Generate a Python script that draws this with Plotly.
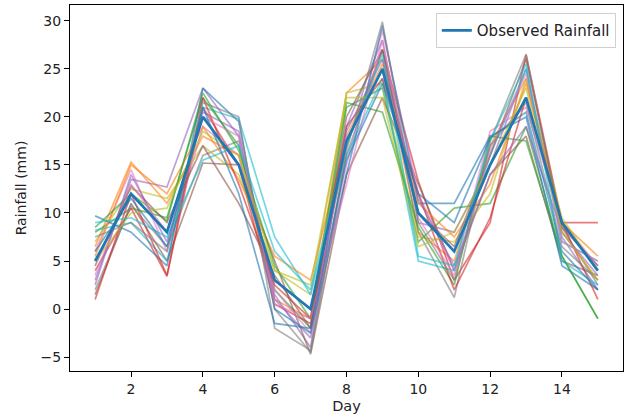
import plotly.graph_objects as go

days = list(range(1, 16))
observed = [5, 12, 8, 20, 15, 3, 0, 17.5, 25, 10, 6, 15, 22, 9, 4]

sim01 = [6.5, 15.3, 11, 18, 16, 1, -1, 22.5, 26, 8, 5, 17, 24, 8, 3]
sim02 = [8, 10.5, 9.5, 22, 17, 2, -2, 21, 23, 7, 10.5, 11, 19, 5.5, -1]
sim03 = [4, 10.5, 3.4, 21, 15, 0.5, -1.5, 17, 27, 13.3, 3, 9, 26.5, 9, 9]
sim04 = [3, 13.5, 12.7, 23, 18, 1.5, -4, 19, 28, 9, 8, 15, 25, 7.5, 2]
sim05 = [1.5, 11, 5, 15.2, 15, 5, -4.7, 14, 22, 13, 4, 14, 18, 5, 3.5]
sim06 = [6, 14.5, 6, 19, 16, 2, -2.5, 15, 29, 12, 4, 18.5, 21, 9, 4.5]
sim07 = [2, 10.8, 6.5, 16, 17.5, 0, -4.5, 16, 27, 8, 1.2, 17.5, 26.5, 8.5, 2.5]
sim08 = [7, 12.5, 11.5, 17, 14, 4, 1.5, 22.5, 23.5, 7.5, 7, 12, 24, 9.5, 4]
sim09 = [8.2, 9, 5, 21, 19.8, 7.5, 1.5, 16, 24, 5, 4, 16, 25, 7, 5]
sim10 = [9.7, 8, 4.5, 23, 19.5, 0, -2.5, 14, 29.5, 11, 11, 18, 20, 4.5, 2]
sim11 = [5.5, 15, 12, 19, 13.5, 5.5, 3, 18, 25.5, 11, 7.5, 13, 23.5, 9, 5.5]
sim12 = [8.5, 12, 9.2, 22.5, 16.5, 4.5, -1, 21.5, 20.5, 8.5, 2.5, 18, 17.5, 5.5, -1]
sim13 = [1, 12, 3.5, 22, 13, 2.5, -1, 19, 24, 12, 2, 9.5, 22, 9, 1]
sim14 = [2.5, 14, 7, 20.5, 18.5, 1, -3, 18.5, 26, 11.5, 4.5, 14, 19, 8, 3.5]
sim15 = [4.5, 12.8, 9, 17, 11, 3.5, -2, 20, 27, 10, 6.5, 16, 26, 8.5, 4.5]
sim16 = [3.5, 13, 8, 20, 18, 0.5, -1, 13, 28, 9.5, 3.5, 16.5, 24.5, 7, 5]
sim17 = [7.5, 9, 6, 21.5, 20, -2, -4.3, 16.5, 29.9, 9, 3, 17, 21.5, 6.5, 3]
sim18 = [5, 10, 10.5, 18.5, 16, 4, 2.5, 22, 22, 6.5, 8, 15, 23, 8, 3]
sim19 = [9, 9.5, 7.5, 15.5, 17, 6, 2, 17, 26.5, 5.5, 4.5, 17.5, 25.5, 5, 2.5]
sim20 = [6, 11.5, 6.5, 21, 12, -1.5, -2, 15.5, 23.5, 12, 9, 17.8, 20.5, 6, 2]

sims = [sim01, sim02, sim03, sim04, sim05, sim06, sim07, sim08, sim09, sim10,
        sim11, sim12, sim13, sim14, sim15, sim16, sim17, sim18, sim19, sim20]

tab10 = ["#1f77b4", "#ff7f0e", "#2ca02c", "#d62728", "#9467bd",
         "#8c564b", "#e377c2", "#7f7f7f", "#bcbd22", "#17becf"]

fig = go.Figure()
for i, s in enumerate(sims):
    fig.add_trace(go.Scatter(x=days, y=s, mode="lines",
                             line=dict(color=tab10[(i + 1) % 10], width=1.7),
                             opacity=0.6, showlegend=False, hoverinfo="skip"))
fig.add_trace(go.Scatter(x=days, y=observed, mode="lines", name="Observed Rainfall",
                         line=dict(color="#1f77b4", width=2.7)))

axis_common = dict(showline=True, linecolor="black", linewidth=1, mirror=True,
                   ticks="outside", ticklen=5, tickcolor="black", showgrid=False,
                   zeroline=False, tickfont=dict(size=14, color="#222222"))
fig.update_xaxes(range=[0.3, 15.7], tickvals=[2, 4, 6, 8, 10, 12, 14],
                 title=dict(text="Day", font=dict(size=14.5, color="#222222"), standoff=5),
                 **axis_common)
fig.update_yaxes(range=[-6.45, 31.65], tickvals=[-5, 0, 5, 10, 15, 20, 25, 30],
                 title=dict(text="Rainfall (mm)", font=dict(size=14, color="#222222"), standoff=10),
                 **axis_common)
fig.update_layout(
    width=625, height=419,
    margin=dict(l=70, r=2, t=5, b=48),
    plot_bgcolor="white", paper_bgcolor="white",
    font=dict(family="DejaVu Sans", color="#222222"),
    legend=dict(x=0.987, y=0.978, xanchor="right", yanchor="top",
                bordercolor="#d0d0d0", borderwidth=1, bgcolor="rgba(255,255,255,0.8)",
                font=dict(size=15)),
)
fig.write_html("out.html")
